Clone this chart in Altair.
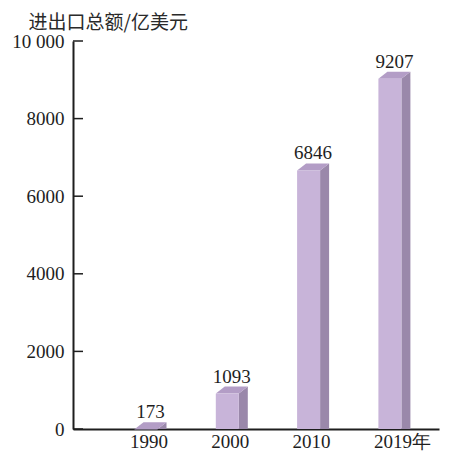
import altair as alt
import pandas as pd

# ---- data ----
categories = ["1990", "2000", "2010", "2019年"]
values = [173, 1093, 6846, 9207]
y_ticks = [0, 2000, 4000, 6000, 8000, 10000]
y_tick_labels = ["0", "2000", "4000", "6000", "8000", "10 000"]
y_title = "进出口总额/亿美元"

# ---- layout / style ----
W, H = 366, 388
SLOT = 81.3          # px between bar centres
FIRST = 73           # px from y axis to first bar centre
BAR_W = 23           # front face width, px
DX, DY = 9, 7        # 3D depth, px
YMAX = 10000
FRONT = "#c8b4d9"
TOP = "#b39dc6"
SIDE = "#9a88aa"
INK = "#1e1e1e"
SERIF = "Liberation Serif"

ux = 1.0 / SLOT      # index units per px
uy = YMAX / H        # data units per px
x_lo = -FIRST / SLOT
x_hi = x_lo + W / SLOT

front_rows, top_rows, side_rows, label_rows = [], [], [], []
for i, (c, v) in enumerate(zip(categories, values)):
    L = i - BAR_W / 2 * ux
    R = i + BAR_W / 2 * ux
    d = DY * uy
    front_rows.append(dict(bar=c, x=L, x2=R, y=0, y2=v - d))
    top_rows += [
        dict(bar=c, x=L, y=v - d, y2=v - d),
        dict(bar=c, x=L + DX * ux, y=v, y2=v - d),
        dict(bar=c, x=R, y=v, y2=v - d),
        dict(bar=c, x=R + DX * ux, y=v, y2=v),
    ]
    side_rows += [
        dict(bar=c, x=R, y=v - d, y2=0),
        dict(bar=c, x=R + DX * ux, y=v, y2=0),
    ]
    label_rows.append(dict(bar=c, x=i + DX / 2 * ux, y=v, text=str(v)))

front_df = pd.DataFrame(front_rows)
top_df = pd.DataFrame(top_rows)
side_df = pd.DataFrame(side_rows)
label_df = pd.DataFrame(label_rows)
tick_df = pd.DataFrame({"y": y_ticks})

xscale = alt.Scale(domain=[x_lo, x_hi], nice=False, zero=False)
yscale = alt.Scale(domain=[0, YMAX], nice=False)

cat_js = "[" + ",".join("'" + c + "'" for c in categories) + "]"
ylab_js = "{" + ",".join("'%d':'%s'" % (v, l) for v, l in zip(y_ticks, y_tick_labels)) + "}"

x_axis = alt.Axis(
    values=list(range(len(categories))),
    labelExpr=cat_js + "[round(datum.value)]",
    ticks=False, tickSize=0, grid=False,
    domainColor=INK, domainWidth=2,
    labelFont=SERIF, labelFontSize=19, labelColor=INK,
    labelAlign="left", labelOffset=DX / 2 - 21, labelBaseline="top",
    labelPadding=3, title="",
)
y_axis = alt.Axis(
    values=y_ticks,
    labelExpr=ylab_js + "[datum.value + '']",
    ticks=False, tickSize=0, grid=False,
    domainColor=INK, domainWidth=2,
    labelFont=SERIF, labelFontSize=19, labelColor=INK,
    labelPadding=9, labelBaseline="middle",
    title=y_title, titleAngle=0, titleAlign="left", titleBaseline="middle",
    titleX=-45, titleY=-19, titleFont="Noto Sans CJK SC",
    titleFontSize=19, titleFontWeight="normal", titleColor="#2a2a2a",
)

X = lambda: alt.X("x:Q", scale=xscale, axis=x_axis)
Y = lambda: alt.Y("y:Q", scale=yscale, axis=y_axis)

side = alt.Chart(side_df).mark_area(color=SIDE).encode(
    x=X(), y=Y(), y2="y2:Q", detail="bar:N",
)
top = alt.Chart(top_df).mark_area(color=TOP).encode(
    x=X(), y=Y(), y2="y2:Q", detail="bar:N",
)
front = alt.Chart(front_df).mark_rect(color=FRONT).encode(
    x=X(), x2="x2:Q", y=Y(), y2="y2:Q",
)
labels = alt.Chart(label_df).mark_text(
    font=SERIF, fontSize=19, color=INK, baseline="alphabetic", dy=-4, align="center"
).encode(
    x=X(), y=Y(), text="text:N",
)
ticks = alt.Chart(tick_df).mark_rule(color=INK, strokeWidth=1.5).encode(
    x=alt.value(0), x2=alt.value(10), y=Y(),
)

chart = alt.layer(side, top, front, ticks, labels).properties(
    width=W, height=H,
    autosize=alt.AutoSizeParams(type="none"),
    padding={"left": 65, "top": 33, "right": 2, "bottom": 22},
).configure_view(stroke=None)

chart.save("out.html", embed_options={"renderer": "svg", "actions": False})
